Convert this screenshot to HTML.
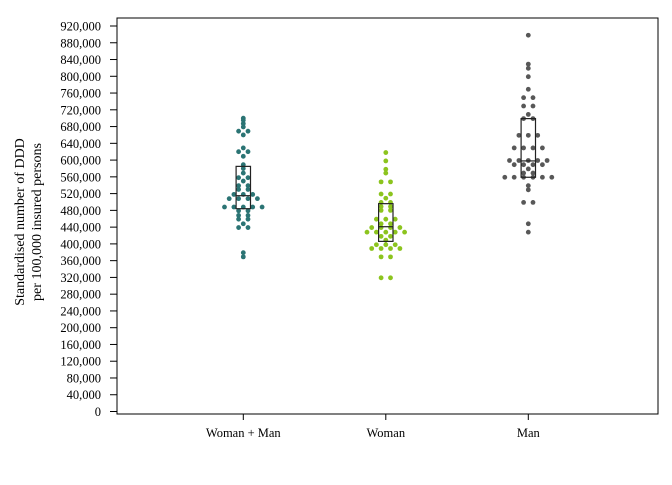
<!DOCTYPE html>
<html><head><meta charset="utf-8"><style>
body{margin:0;background:#fff}
svg text{font-family:"Liberation Serif",serif;font-size:12.5px;fill:#000}
</style></head><body>
<svg id="chart" width="672" height="480" xmlns="http://www.w3.org/2000/svg">
<rect x="0" y="0" width="672" height="480" fill="#fff"/>
<rect x="117" y="18" width="541" height="396" fill="none" stroke="#000" stroke-width="1"/>
<text transform="translate(24,222) rotate(-90)" text-anchor="middle" style="font-size:14px"><tspan x="0" dy="0">Standardised number of DDD</tspan><tspan x="0" dy="17">per 100,000 insured persons</tspan></text>
<g id="yaxis"></g>
<g id="xaxis"></g>
<g id="marks"></g>
</svg>
<script>
const categories = ["Woman + Man", "Woman", "Man"];
const colors = ["#2b7474", "#8cc41e", "#585858"];
const yTicks = [0,40000,80000,120000,160000,200000,240000,280000,320000,360000,400000,440000,480000,520000,560000,600000,640000,680000,720000,760000,800000,840000,880000,920000];
const valuesBoth = [700,695,687,679,669,669,660,629,620,620,609,589,580,569,558,558,550,539,539,530,530,518,518,518,508,508,508,508,488,488,488,488,488,479,479,468,468,459,459,448,439,439,379,369];
const valuesWoman = [618,598,578,569,548,548,519,519,509,499,499,489,489,480,480,459,459,459,448,448,439,439,439,439,428,428,428,428,428,418,418,409,398,398,398,389,389,389,389,369,369,319,319];
const valuesMan = [898,829,819,799,769,749,749,729,729,709,699,699,659,659,659,629,629,629,629,599,599,599,599,599,589,589,589,589,579,569,569,559,559,559,559,559,559,539,529,499,499,448,428];
const boxQ1 = [484,406,559];
const boxMedian = [515,441,598];
const boxQ3 = [585,496,699];

const NS="http://www.w3.org/2000/svg";
const y=v=>411.5-v*(385.5/920000);
const xc=i=>243.3+i*142.5;
function mk(tag,attrs,parent){const e=document.createElementNS(NS,tag);for(const k in attrs)e.setAttribute(k,attrs[k]);parent.appendChild(e);return e;}
const ya=document.getElementById('yaxis');
yTicks.forEach(t=>{
  const l=mk('line',{x1:110,x2:117,y1:y(t),y2:y(t),stroke:'#000'},ya);
  
  
  const tx=mk('text',{x:101,y:y(t)+4.5,'text-anchor':'end'},ya);
  tx.textContent=t.toLocaleString('en-US');
  
  
});
const xa=document.getElementById('xaxis');
categories.forEach((c,i)=>{
  const l=mk('line',{x1:xc(i),x2:xc(i),y1:414,y2:420,stroke:'#000'},xa);
  
  
  const tx=mk('text',{x:xc(i),y:437,'text-anchor':'middle'},xa);
  tx.textContent=c;
  
  
});
const marks=document.getElementById('marks');
[valuesBoth,valuesWoman,valuesMan].forEach((vals,i)=>{
  const g=mk('g',{},marks);
  
  
  const groups={};
  vals.forEach(v=>{groups[v]=(groups[v]||0)+1;});
  Object.keys(groups).forEach(k=>{
    const n=groups[k];
    for(let j=0;j<n;j++){
      const off=(j-(n-1)/2)*9.4;
      const d=mk('circle',{cx:xc(i)+off,cy:y(+k*1000),r:2.4,fill:colors[i]},g);
      
      
    }
  });
  const b=mk('rect',{x:xc(i)-7.2,y:y(boxQ3[i]*1000),width:14.4,height:y(boxQ1[i]*1000)-y(boxQ3[i]*1000),fill:'none',stroke:'#222','stroke-width':1.2},g);
  
  
  const m=mk('line',{x1:xc(i)-7.2,x2:xc(i)+7.2,y1:y(boxMedian[i]*1000),y2:y(boxMedian[i]*1000),stroke:'#222','stroke-width':1.2},g);
  
  
});
</script>
</body></html>
